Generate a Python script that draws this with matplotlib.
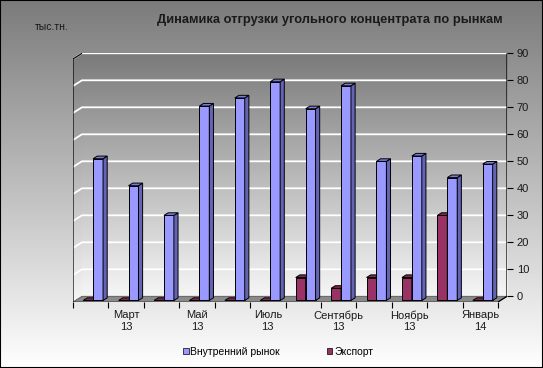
import numpy as np
import matplotlib
matplotlib.use("Agg")
import matplotlib.pyplot as plt
from matplotlib.patches import Polygon, Rectangle, Patch
from matplotlib.colors import LinearSegmentedColormap

plt.rcParams['font.family'] = ['Liberation Sans', 'DejaVu Sans']

# данные (тыс.тн.), февраль 2013 - январь 2014
month_labels = ["", "Март\n13", "", "Май\n13", "", "Июль\n13",
                "", "Сентябрь\n13", "", "Ноябрь\n13", "", "Январь\n14"]
domestic = [52.5, 42.5, 31.5, 72, 75, 81, 71, 79.5, 51.5, 53.5, 45.5, 50.5]
export = [0, 0, 0, 0, 0, 0, 8.5, 4.5, 8.5, 8.5, 31.5, 0]
series_names = ["Внутренний рынок", "Экспорт"]
yticks = list(range(0, 91, 10))

W, H = 543, 368
fig = plt.figure(figsize=(W / 100, H / 100), dpi=100)

# фон рисунка - градиент
bg = fig.add_axes([0, 0, 1, 1], zorder=0)
grad = np.linspace(0, 1, 256).reshape(-1, 1)
bg_cmap = LinearSegmentedColormap.from_list("bg", ["#7b7b7b", "#ffffff"])
bg.imshow(grad, extent=[0, 1, 0, 1], aspect="auto", cmap=bg_cmap)
bg.axis("off")

n = len(domestic)
DX, DY = 9 / 35.42, 5.7 / 2.7   # глубина "3D" пола

ax = fig.add_axes([73 / W, (H - 302) / H, (507 - 73) / W, (302 - 53.3) / H], zorder=1)
ax.patch.set_alpha(0)
for s in ax.spines.values():
    s.set_visible(False)

wall_cmap = LinearSegmentedColormap.from_list("wall", ["#7a7a7a", "#f6f6f6"])
ax.imshow(grad, extent=[0, n, 0, 90], aspect="auto", cmap=wall_cmap, zorder=0)
lw_img = ax.imshow(grad, extent=[-DX, 0, -DY, 90], aspect="auto", cmap=wall_cmap, zorder=0)
left_wall = Polygon([(-DX, -DY), (0, 0), (0, 90), (-DX, 90 - DY)], closed=True,
                    fc="none", ec="none", transform=ax.transData)
ax.add_patch(left_wall)
lw_img.set_clip_path(left_wall)

floor = Polygon([(-DX, -DY), (n - DX, -DY), (n, 0), (0, 0)], closed=True,
                fc="#8a8a8a", ec="#555555", lw=0.6, zorder=1)
ax.add_patch(floor)

for v in yticks[1:]:
    ax.plot([-DX, 0, n], [v - DY, v, v], color="white", lw=1.3, zorder=1.5)

# рёбра
k = dict(color="black", lw=0.9, zorder=2, solid_capstyle="butt")
ax.plot([-DX, -DX, 0], [-DY, 90 - DY, 90], **k)
ax.plot([n, n, n - DX], [90, 0, -DY], **k)
ax.plot([-DX, n - DX], [-DY, -DY], **k)

# столбцы
front_f, back_f = 0.73, 0.27
w = 0.28
styles = [("#993366", "#6a2347", "#7e2a54"), ("#9999ff", "#6464b4", "#7a7ad8")]
z = 3
for i in range(n):
    for j, (vals, x0) in enumerate([(export, i + 0.22), (domestic, i + 0.22 + w)]):
        v = vals[i]
        fc, sc, tc = styles[j]
        xf0 = x0 - front_f * DX
        xb0 = x0 - back_f * DX
        yf0 = -front_f * DY
        yb0 = -back_f * DY
        ax.bar(xf0, v, width=w, bottom=yf0, align="edge", color=fc,
               edgecolor="black", linewidth=0.7, zorder=z)
        side = [(xf0 + w, yf0), (xb0 + w, yb0), (xb0 + w, yb0 + v), (xf0 + w, yf0 + v)]
        top = [(xf0, yf0 + v), (xf0 + w, yf0 + v), (xb0 + w, yb0 + v), (xb0, yb0 + v)]
        ax.add_patch(Polygon(side, closed=True, fc=sc, ec="black", lw=0.7, zorder=z))
        ax.add_patch(Polygon(top, closed=True, fc=tc, ec="black", lw=0.7, zorder=z))
        z += 0.01

ax.set_xlim(-DX, n)
ax.set_ylim(-DY, 90)

ax.yaxis.tick_right()
ax.set_yticks(yticks)
ax.tick_params(axis="y", length=4, width=0.8, pad=3, labelsize=8, labelcolor="#1a1a1a")

ax.set_xticks(np.arange(n + 1) - DX)
ax.set_xticklabels([""] * (n + 1))
ax.set_xticks(np.arange(n) + 0.5 - DX, minor=True)
ax.set_xticklabels(month_labels, minor=True)
ax.tick_params(axis="x", which="major", length=4, width=0.8)
ax.tick_params(axis="x", which="minor", length=0, pad=6, labelsize=8, labelcolor="#1a1a1a")

fig.text(330 / W, 1 - 20 / H, "Динамика отгрузки угольного концентрата по рынкам",
         ha="center", va="center", fontsize=9.3, fontweight="bold", color="#1a1a1a")
fig.text(35 / W, 1 - 27 / H, "тыс.тн.", ha="left", va="center", fontsize=7.5, color="#1a1a1a")

handles = [Patch(fc="#9999ff", ec="black", lw=0.5), Patch(fc="#993366", ec="black", lw=0.5)]
fig.legend(handles, series_names, loc="center", bbox_to_anchor=(278 / W, 1 - 352 / H),
           ncol=2, frameon=False, fontsize=7.5, handlelength=0.55, handleheight=0.55,
           handletextpad=0.15, columnspacing=4.5)

fig.patches.append(Rectangle((0, 0), 1, 1, transform=fig.transFigure, fill=False,
                             ec="black", lw=1.5, zorder=10))

fig.savefig("out.png", dpi=100)
